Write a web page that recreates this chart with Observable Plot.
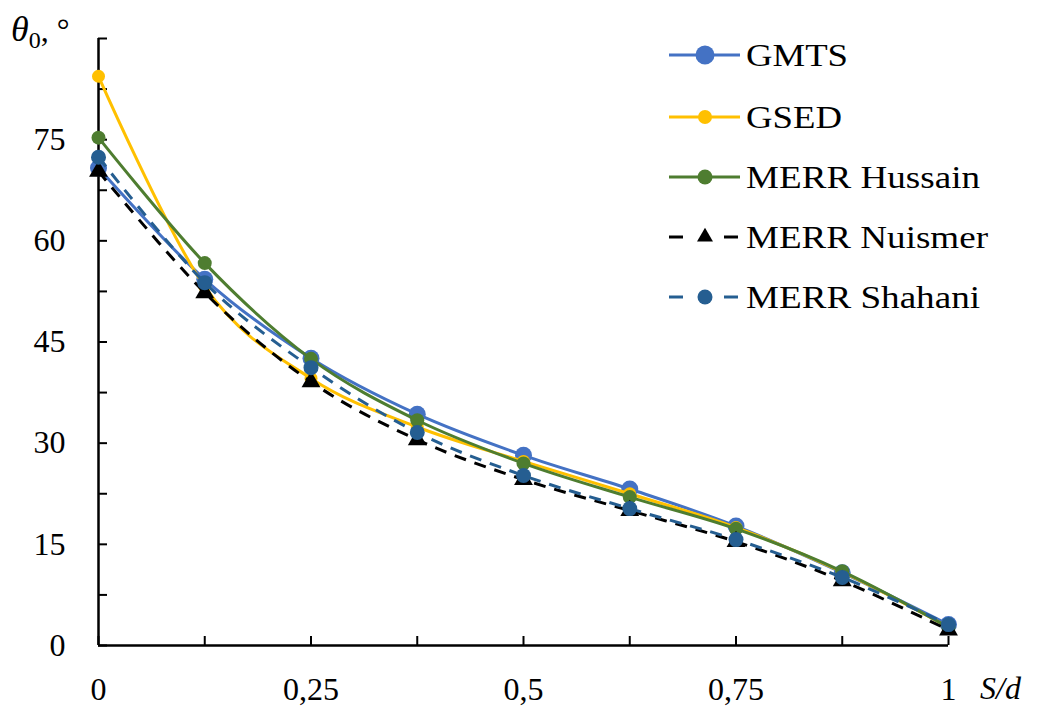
<!DOCTYPE html>
<html>
<head>
<meta charset="utf-8">
<script src="https://cdn.jsdelivr.net/npm/d3@7"></script>
<script src="https://cdn.jsdelivr.net/npm/@observablehq/plot@0.6"></script>
<style>
  html, body { margin: 0; padding: 0; background: #fff; }
  #wrap { position: relative; width: 1037px; height: 706px; }
  #overlay { position: absolute; left: 0; top: 0; pointer-events: none; }
</style>
</head>
<body>
<div id="wrap"></div>
<script>
// ---- data ----
const sd = [0, 0.125, 0.25, 0.375, 0.5, 0.625, 0.75, 0.875, 1];
const seriesNames = ["GMTS", "GSED", "MERR Hussain", "MERR Nuismer", "MERR Shahani"];
const gmts    = [70.8, 54.3, 42.6, 34.3, 28.2, 23.2, 17.7, 10.8, 3.1];
const gsed    = [84.4, 53.2, 39.6, 32.4, 27.3, 22.5, 17.5, 10.9, 2.7];
const hussain = [75.3, 56.7, 42.5, 33.4, 27.0, 22.0, 17.3, 11.0, 2.7];
const nuismer = [70.3, 52.3, 39.1, 30.5, 24.6, 20.0, 15.4, 9.6, 2.3];
const shahani = [72.4, 53.8, 41.2, 31.6, 25.2, 20.3, 15.7, 10.1, 3.1];
const xLabelTicks = [0, 0.25, 0.5, 0.75, 1];
const xMinorTicks = [0, 0.125, 0.25, 0.375, 0.5, 0.625, 0.75, 0.875, 1];
const yLabelTicks = [0, 15, 30, 45, 60, 75];
const yMinorTicks = [0, 7.5, 15, 22.5, 30, 37.5, 45, 52.5, 60, 67.5, 75, 82.5, 90];

// ---- styles ----
const styles = {
  "GMTS":         {color: "#4472C4", dash: null,  symbol: "circle",   r: 8.5, lr: 9.5},
  "GSED":         {color: "#FFC000", dash: null,  symbol: "circle",   r: 6.5, lr: 7},
  "MERR Hussain": {color: "#4E7D30", dash: null,  symbol: "circle",   r: 7,   lr: 7.5},
  "MERR Nuismer": {color: "#000000", dash: "12,9", symbol: "triangle", r: 7,  lr: 7},
  "MERR Shahani": {color: "#255E91", dash: "12,9", symbol: "circle",   r: 7.5, lr: 7.5}
};
const legendWidths = {"GMTS": 102, "GSED": 96, "MERR Hussain": 234, "MERR Nuismer": 242, "MERR Shahani": 234};
const valueArrays = [gmts, gsed, hussain, nuismer, shahani];
const rows = [];
seriesNames.forEach((name, i) => sd.forEach((x, j) => rows.push({series: name, x, y: valueArrays[i][j]})));

const serif = '"Liberation Serif", serif';

const seriesMarks = seriesNames.flatMap(name => {
  const st = styles[name];
  const data = rows.filter(d => d.series === name);
  return [
    Plot.line(data, {x: "x", y: "y", stroke: st.color, strokeWidth: 3, curve: "cardinal", tension: 0,
                     strokeDasharray: st.dash, strokeLinecap: "butt"}),
    Plot.dot(data, {x: "x", y: "y", fill: st.color, stroke: "none", r: st.r, symbol: st.symbol})
  ];
});

const chart = Plot.plot({
  width: 1037, height: 706,
  marginLeft: 98, marginRight: 89, marginTop: 38, marginBottom: 61,
  x: {domain: [0, 1]},
  y: {domain: [0, 90]},
  style: {fontFamily: serif, fontSize: "32px", color: "black", background: "white"},
  marks: [
    Plot.axisX({ticks: xMinorTicks, tickSize: 9, dy: -9, tickFormat: () => "", label: null, strokeWidth: 2}),
    Plot.axisX({ticks: xLabelTicks, tickSize: 0, tickPadding: 32, tickFormat: d => String(d).replace(".", ","), label: null}),
    Plot.axisY({ticks: yMinorTicks, tickSize: 9, dx: 9, tickFormat: () => "", label: null, strokeWidth: 2}),
    Plot.axisY({ticks: yLabelTicks, tickSize: 0, tickPadding: 33, label: null}),
    Plot.ruleX([0], {strokeWidth: 2.5}),
    Plot.ruleY([0], {strokeWidth: 2.5}),
    ...seriesMarks
  ]
});
const wrap = document.getElementById("wrap");
wrap.appendChild(chart);

// ---- overlay: legend and axis titles ----
const svg = d3.select(wrap).append("svg").attr("id", "overlay")
  .attr("width", 1037).attr("height", 706)
  .attr("font-family", "Liberation Serif");

// y title: θ0, °
const yt = svg.append("text").attr("x", 11).attr("y", 41).attr("font-size", 32).attr("fill", "black");
yt.append("tspan").attr("font-style", "italic").attr("font-size", 36).text("θ");
yt.append("tspan").attr("font-size", 24).attr("dy", 7).text("0");
yt.append("tspan").attr("dy", -7).text(", °");

// x title: S/d
svg.append("text").attr("x", 980).attr("y", 699).attr("font-size", 32)
  .attr("font-style", "italic").attr("fill", "black").text("S/d");

// legend
const legendRows = [55, 117, 177, 237, 297];
seriesNames.forEach((name, i) => {
  const st = styles[name];
  const cy = legendRows[i];
  const g = svg.append("g");
  if (st.dash) {
    g.append("line").attr("x1", 669).attr("x2", 683).attr("y1", cy).attr("y2", cy)
      .attr("stroke", st.color).attr("stroke-width", 3);
    g.append("line").attr("x1", 724).attr("x2", 738).attr("y1", cy).attr("y2", cy)
      .attr("stroke", st.color).attr("stroke-width", 3);
  } else {
    g.append("line").attr("x1", 669).attr("x2", 740).attr("y1", cy).attr("y2", cy)
      .attr("stroke", st.color).attr("stroke-width", 3);
  }
  const sym = st.symbol === "triangle" ? d3.symbolTriangle : d3.symbolCircle;
  const size = st.symbol === "triangle" ? 110 : Math.PI * st.lr * st.lr;
  g.append("path").attr("d", d3.symbol(sym, size)()).attr("transform", `translate(705,${cy})`)
    .attr("fill", st.color);
  g.append("text").attr("x", 746).attr("y", cy + 11)
    .attr("font-size", 32).attr("fill", "black")
    .attr("textLength", legendWidths[name]).attr("lengthAdjust", "spacingAndGlyphs")
    .text(name);
});
</script>
</body>
</html>
